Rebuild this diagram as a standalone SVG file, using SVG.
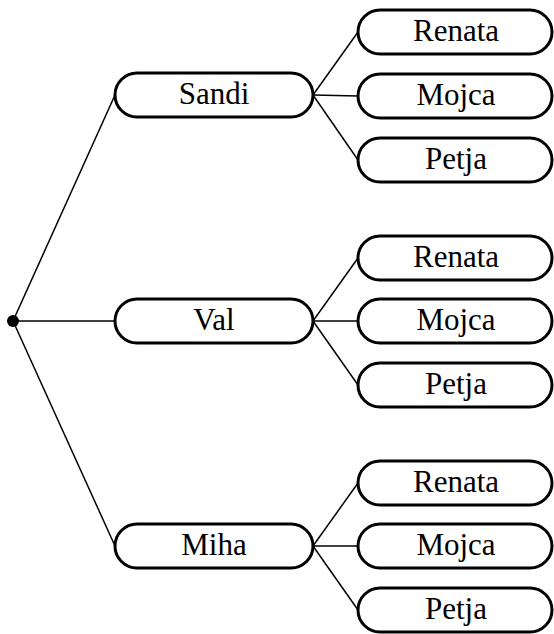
<svg xmlns="http://www.w3.org/2000/svg" width="554" height="634" viewBox="0 0 554 634">
<style>
.box{fill:#fff;stroke:#000;stroke-width:3}
.lbl{font-family:"Liberation Serif","DejaVu Serif",serif;font-size:31px;fill:#000;text-anchor:middle}
.ln{stroke:#000;stroke-width:1.5;fill:none}
</style>
<rect width="554" height="634" fill="#fff"/>
<g id="connectors">
<line class="ln" x1="13" y1="321" x2="115" y2="95"/>
<line class="ln" x1="13" y1="321" x2="115" y2="321"/>
<line class="ln" x1="13" y1="321" x2="115" y2="546"/>
<line class="ln" x1="313" y1="95" x2="358" y2="32"/>
<line class="ln" x1="313" y1="95" x2="358" y2="96"/>
<line class="ln" x1="313" y1="95" x2="358" y2="160"/>
<line class="ln" x1="313" y1="321" x2="358" y2="258"/>
<line class="ln" x1="313" y1="321" x2="358" y2="321"/>
<line class="ln" x1="313" y1="321" x2="358" y2="385"/>
<line class="ln" x1="313" y1="546" x2="358" y2="483"/>
<line class="ln" x1="313" y1="546" x2="358" y2="546"/>
<line class="ln" x1="313" y1="546" x2="358" y2="610"/>
</g>
<g id="root"><circle cx="13" cy="321" r="6" fill="#000"/></g>
<g id="sandi"><rect class="box" x="115" y="73" width="198" height="44" rx="22"/><text class="lbl" x="214" y="104">Sandi</text></g>
<g id="val"><rect class="box" x="115" y="299" width="198" height="44" rx="22"/><text class="lbl" x="214" y="330">Val</text></g>
<g id="miha"><rect class="box" x="115" y="524" width="198" height="44" rx="22"/><text class="lbl" x="214" y="555">Miha</text></g>
<g id="renata1"><rect class="box" x="358" y="10" width="194" height="44" rx="22"/><text class="lbl" x="456" y="41">Renata</text></g>
<g id="mojca1"><rect class="box" x="358" y="74" width="194" height="44" rx="22"/><text class="lbl" x="456" y="105">Mojca</text></g>
<g id="petja1"><rect class="box" x="358" y="138" width="194" height="44" rx="22"/><text class="lbl" x="456" y="169">Petja</text></g>
<g id="renata2"><rect class="box" x="358" y="236" width="194" height="44" rx="22"/><text class="lbl" x="456" y="267">Renata</text></g>
<g id="mojca2"><rect class="box" x="358" y="299" width="194" height="44" rx="22"/><text class="lbl" x="456" y="330">Mojca</text></g>
<g id="petja2"><rect class="box" x="358" y="363" width="194" height="44" rx="22"/><text class="lbl" x="456" y="394">Petja</text></g>
<g id="renata3"><rect class="box" x="358" y="461" width="194" height="44" rx="22"/><text class="lbl" x="456" y="492">Renata</text></g>
<g id="mojca3"><rect class="box" x="358" y="524" width="194" height="44" rx="22"/><text class="lbl" x="456" y="555">Mojca</text></g>
<g id="petja3"><rect class="box" x="358" y="588" width="194" height="44" rx="22"/><text class="lbl" x="456" y="619">Petja</text></g>
</svg>
